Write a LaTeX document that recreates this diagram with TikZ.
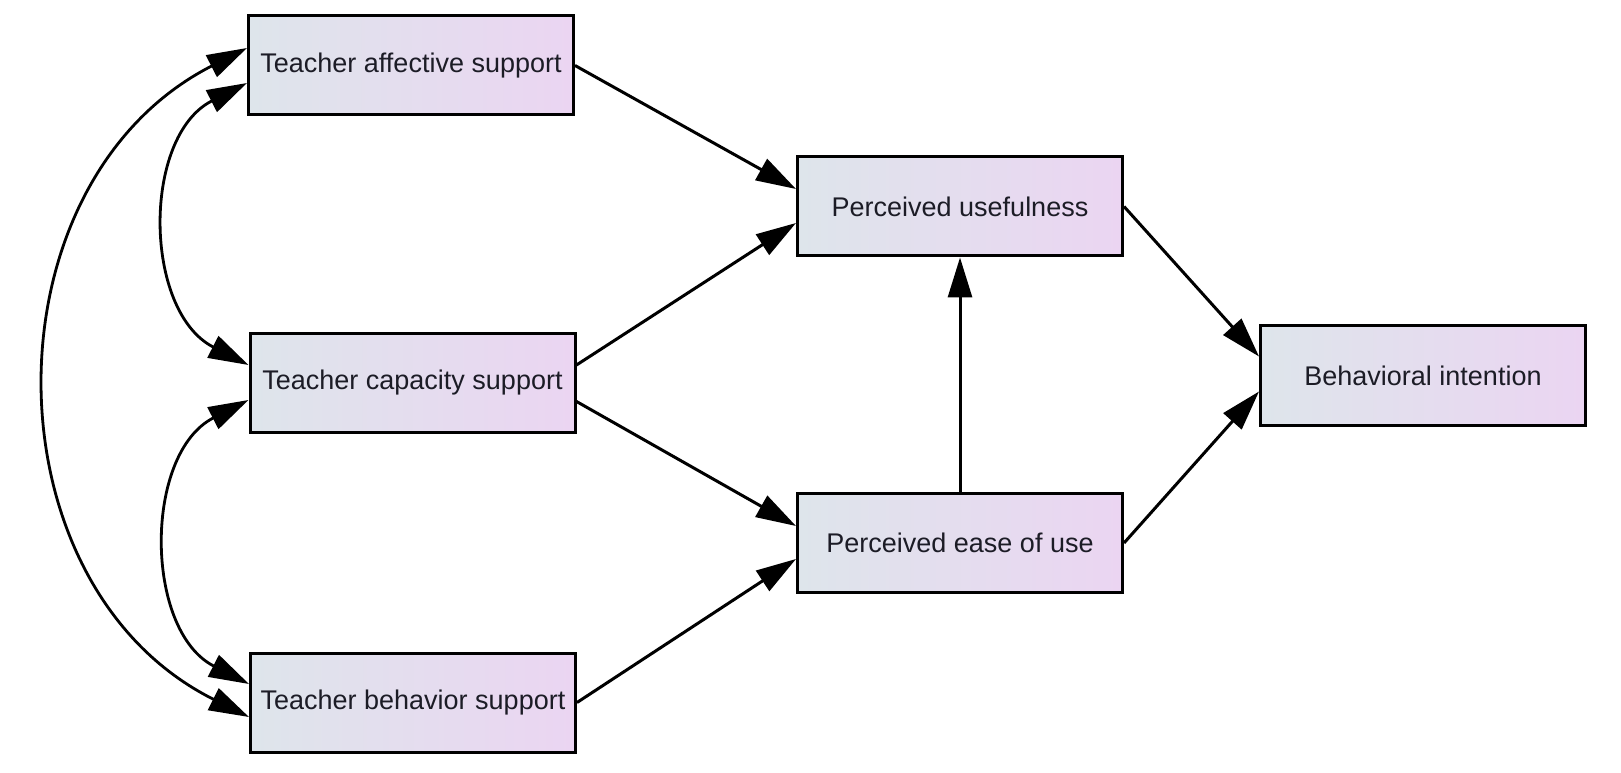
\documentclass[tikz,border=0pt]{standalone}
\usepackage{fontspec}
\setmainfont{Liberation Sans}
\usetikzlibrary{arrows.meta,calc}
\definecolor{boxleft}{RGB}{222,229,235}
\definecolor{boxright}{RGB}{235,213,242}
\definecolor{txt}{RGB}{28,28,38}
\tikzset{
  varbox/.style={draw=black, line width=1.5pt, rectangle, minimum width=162.5pt,
    minimum height=49.5pt, inner sep=0pt, left color=boxleft, right color=boxright,
    text=txt, font=\fontsize{13.5}{16}\selectfont},
  path arrow/.style={line width=1.5pt, -{Triangle[length=20pt,width=12pt]}},
  cov arrow/.style={line width=1.4pt, {Triangle[length=20pt,width=12pt]}-{Triangle[length=20pt,width=12pt]}}
}
\begin{document}
\begin{tikzpicture}[x=0.5pt,y=0.5pt]
\useasboundingbox (0,0) rectangle (1621,772);
\node[varbox] (TAS) at (411,706.5) {Teacher affective support};
\node[varbox] (TCS) at (412.5,389) {Teacher capacity support};
\node[varbox] (TBS) at (413,69.5) {Teacher behavior support};
\node[varbox] (PU)  at (960,565.5) {Perceived usefulness};
\node[varbox] (PEU) at (960,229) {Perceived ease of use};
\node[varbox] (BI)  at (1423,396.5) {Behavioral intention};
% structural paths
\draw[path arrow] (TAS.east) -- ($(PU.west)+(0,17.5)$);
\draw[path arrow] ($(TCS.east)+(0,18)$) -- ($(PU.west)+(0,-16.5)$);
\draw[path arrow] ($(TCS.east)+(0,-18.5)$) -- ($(PEU.west)+(0,17)$);
\draw[path arrow] (TBS.east) -- ($(PEU.west)+(0,-16)$);
\draw[path arrow] (PU.east) -- ($(BI.west)+(0,19)$);
\draw[path arrow] (PEU.east) -- ($(BI.west)+(0,-16)$);
\draw[path arrow] (PEU.north) -- (PU.south);
% covariances
\draw[cov arrow] ($(TAS.west)+(0,-17.5)$) to[out=207,in=153,looseness=1.07] ($(TCS.west)+(0,18)$);
\draw[cov arrow] ($(TCS.west)+(0,-17)$) to[out=207,in=153,looseness=1.06] ($(TBS.west)+(0,18.5)$);
\draw[cov arrow] ($(TAS.west)+(0,17.5)$) to[out=207,in=153.5,looseness=1.13] ($(TBS.west)+(0,-14.5)$);
\end{tikzpicture}
\end{document}
